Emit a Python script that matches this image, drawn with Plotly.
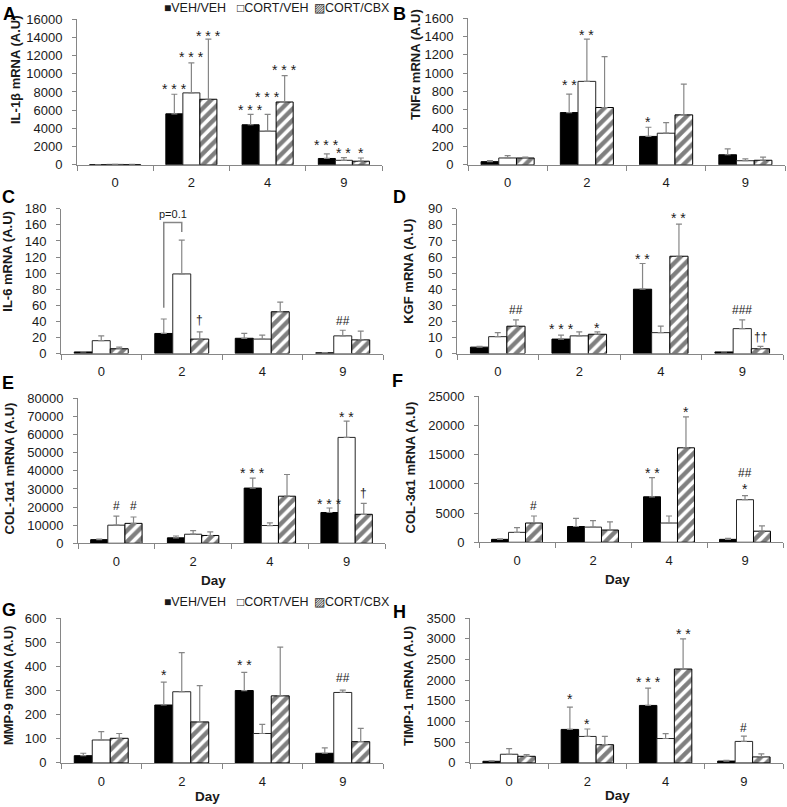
import plotly.graph_objects as go

W, H = 787, 807
FONT = "Arial, 'Liberation Sans', sans-serif"
GRAY = "#868686"
TXT = "#1a1a1a"

DAYS = ["0", "2", "4", "9"]
GROUPS = ["VEH/VEH", "CORT/VEH", "CORT/CBX"]

# ---- data (mean, SEM) per panel / group ----
IL1B_VEH = [30, 5600, 4400, 700]
IL1B_VEH_SEM = [10, 2150, 1150, 500]
IL1B_CORT = [50, 7900, 3700, 500]
IL1B_CORT_SEM = [10, 3300, 1850, 300]
IL1B_CBX = [40, 7200, 6900, 400]
IL1B_CBX_SEM = [10, 6600, 2900, 350]

TNF_VEH = [35, 570, 310, 110]
TNF_VEH_SEM = [10, 200, 100, 65]
TNF_CORT = [75, 910, 345, 45]
TNF_CORT_SEM = [25, 460, 115, 20]
TNF_CBX = [75, 625, 545, 50]
TNF_CBX_SEM = [10, 555, 335, 35]

IL6_VEH = [2, 25, 19, 1]
IL6_VEH_SEM = [0.5, 18, 6, 0.3]
IL6_CORT = [16, 99, 18, 22]
IL6_CORT_SEM = [6, 42, 5, 7]
IL6_CBX = [6, 18, 52, 17]
IL6_CBX_SEM = [2, 9, 12, 11]

KGF_VEH = [4, 9, 40, 1]
KGF_VEH_SEM = [0.5, 2.5, 16, 0.2]
KGF_CORT = [10.5, 11, 13, 15.5]
KGF_CORT_SEM = [2.5, 2.5, 4, 5.5]
KGF_CBX = [17, 12, 60.5, 3]
KGF_CBX_SEM = [4, 1.5, 20, 1.5]

COL1_VEH = [2000, 3000, 30500, 17000]
COL1_VEH_SEM = [300, 1000, 5500, 2500]
COL1_CORT = [10000, 5000, 9800, 58500]
COL1_CORT_SEM = [5000, 2000, 1500, 9000]
COL1_CBX = [11000, 4300, 26000, 16000]
COL1_CBX_SEM = [3500, 2000, 12000, 6000]

COL3_VEH = [500, 2700, 7800, 500]
COL3_VEH_SEM = [100, 1400, 3300, 150]
COL3_CORT = [1700, 2600, 3300, 7300]
COL3_CORT_SEM = [800, 1100, 1200, 700]
COL3_CBX = [3300, 2100, 16200, 1900]
COL3_CBX_SEM = [1200, 1400, 5300, 900]

MMP9_VEH = [30, 240, 300, 40]
MMP9_VEH_SEM = [10, 95, 75, 22]
MMP9_CORT = [95, 295, 122, 292]
MMP9_CORT_SEM = [35, 162, 38, 10]
MMP9_CBX = [102, 170, 278, 88]
MMP9_CBX_SEM = [20, 150, 202, 55]

TIMP1_VEH = [40, 810, 1390, 45]
TIMP1_VEH_SEM = [10, 540, 420, 15]
TIMP1_CORT = [210, 640, 590, 520]
TIMP1_CORT_SEM = [135, 180, 120, 130]
TIMP1_CBX = [160, 440, 2270, 145]
TIMP1_CBX_SEM = [40, 200, 730, 75]

# significance marks: (day index, group index, text, y-position in data units)
IL1B_MARKS = [(1, 0, "***", 8700), (1, 1, "***", 12150), (1, 2, "***", 14450),
              (2, 0, "***", 6300), (2, 1, "***", 7800), (2, 2, "***", 10700),
              (3, 0, "***", 2500), (3, 1, "**", 1600), (3, 2, "*", 1600)]
TNF_MARKS = [(1, 0, "**", 905), (1, 1, "**", 1450), (2, 0, "*", 498)]
IL6_MARKS = [(1, 2, "†", 42), (3, 1, "##", 40)]
KGF_MARKS = [(0, 2, "##", 27), (1, 0, "***", 17), (1, 2, "*", 18), (2, 0, "**", 60.6),
             (2, 2, "**", 86), (2, 2, "††", 93), (3, 1, "###", 27), (3, 2, "††", 10)]
COL1_MARKS = [(0, 1, "#", 20400), (0, 2, "#", 20400), (2, 0, "***", 40700),
              (3, 0, "***", 23600), (3, 1, "**", 71500), (3, 2, "†", 28000)]
COL3_MARKS = [(0, 2, "#", 6300), (2, 0, "**", 12400), (2, 2, "*", 22900),
              (3, 1, "*", 9700), (3, 1, "##", 11800)]
MMP9_MARKS = [(1, 0, "*", 375), (2, 0, "**", 420), (3, 1, "##", 352)]
TIMP1_MARKS = [(1, 0, "*", 1610), (1, 1, "*", 1005), (2, 0, "***", 2035),
               (2, 2, "**", 3180), (3, 1, "#", 845)]

# IL-6 day-2 comparison bracket (VEH/VEH vs CORT/VEH)
IL6_BRACKET_DAY = 1
IL6_BRACKET_Y = [57, 163, 151]
IL6_BRACKET_LABEL = "p=0.1"
IL6_BRACKET_LABEL_Y = 174

panels = [
    dict(letter="A", ytitle="IL-1β mRNA (A.U)", ymax=16000, dtick=2000,
         means=[IL1B_VEH, IL1B_CORT, IL1B_CBX], sems=[IL1B_VEH_SEM, IL1B_CORT_SEM, IL1B_CBX_SEM],
         marks=IL1B_MARKS, box=(77, 382, 18, 164), tpos=(15, 69), lpos=(9, 13), day=None),
    dict(letter="B", ytitle="TNFα mRNA (A.U)", ymax=1600, dtick=200,
         means=[TNF_VEH, TNF_CORT, TNF_CBX], sems=[TNF_VEH_SEM, TNF_CORT_SEM, TNF_CBX_SEM],
         marks=TNF_MARKS, box=(468, 785, 17, 164), tpos=(415, 64), lpos=(399, 13), day=None),
    dict(letter="C", ytitle="IL-6 mRNA (A.U)", ymax=180, dtick=20,
         means=[IL6_VEH, IL6_CORT, IL6_CBX], sems=[IL6_VEH_SEM, IL6_CORT_SEM, IL6_CBX_SEM],
         marks=IL6_MARKS, box=(61, 383, 208, 353), tpos=(8, 261), lpos=(8, 196), day=None),
    dict(letter="D", ytitle="KGF mRNA (A.U)", ymax=90, dtick=10,
         means=[KGF_VEH, KGF_CORT, KGF_CBX], sems=[KGF_VEH_SEM, KGF_CORT_SEM, KGF_CBX_SEM],
         marks=KGF_MARKS, box=(457, 783, 208, 353), tpos=(409, 271), lpos=(399, 196), day=None),
    dict(letter="E", ytitle="COL-1α1 mRNA (A.U)", ymax=80000, dtick=10000,
         means=[COL1_VEH, COL1_CORT, COL1_CBX], sems=[COL1_VEH_SEM, COL1_CORT_SEM, COL1_CBX_SEM],
         marks=COL1_MARKS, box=(78, 385, 398, 543), tpos=(9, 468), lpos=(8, 382), day=(213, 580)),
    dict(letter="F", ytitle="COL-3α1 mRNA (A.U)", ymax=25000, dtick=5000,
         means=[COL3_VEH, COL3_CORT, COL3_CBX], sems=[COL3_VEH_SEM, COL3_CORT_SEM, COL3_CBX_SEM],
         marks=COL3_MARKS, box=(479, 783, 396, 542), tpos=(410, 467), lpos=(398, 380), day=(617, 579)),
    dict(letter="G", ytitle="MMP-9 mRNA (A.U)", ymax=600, dtick=100,
         means=[MMP9_VEH, MMP9_CORT, MMP9_CBX], sems=[MMP9_VEH_SEM, MMP9_CORT_SEM, MMP9_CBX_SEM],
         marks=MMP9_MARKS, box=(61, 383, 618, 763), tpos=(8, 686), lpos=(9, 610), day=(207, 797)),
    dict(letter="H", ytitle="TIMP-1 mRNA (A.U)", ymax=3500, dtick=500,
         means=[TIMP1_VEH, TIMP1_CORT, TIMP1_CBX], sems=[TIMP1_VEH_SEM, TIMP1_CORT_SEM, TIMP1_CBX_SEM],
         marks=TIMP1_MARKS, box=(470, 783, 618, 763), tpos=(408, 686), lpos=(399, 612), day=(617, 796)),
]

BARGAP = 0.33
BW = (1 - BARGAP) / 3

# the photographed page is slightly squeezed vertically; map target pixel rows to page rows
V_SCALE = 821 / 807
V_OFFSET = 6


def px(x):
    return x / W


def py(y):
    return 1 - (y * V_SCALE - V_OFFSET) / H


styles = [
    dict(color="black", line=dict(color="black", width=1)),
    dict(color="white", line=dict(color="#262626", width=1)),
    dict(color="white", line=dict(color="black", width=1),
         pattern=dict(shape="/", fgcolor="black", bgcolor="white", size=8, solidity=0.55)),
]

fig = go.Figure()
annotations = []
shapes = []
layout_axes = {}
xpos = list(range(len(DAYS)))

for i, p in enumerate(panels, start=1):
    xs = "x" if i == 1 else f"x{i}"
    ys = "y" if i == 1 else f"y{i}"
    for g, name in enumerate(GROUPS):
        fig.add_trace(go.Bar(
            x=xpos, y=p["means"][g], name=name, xaxis=xs, yaxis=ys, showlegend=False,
            marker=styles[g],
            error_y=dict(type="data", array=p["sems"][g], arrayminus=[0] * len(DAYS), symmetric=False,
                         color=GRAY, thickness=1.2, width=3),
        ))
    x0, x1, y0, y1 = p["box"]
    layout_axes["xaxis" if i == 1 else f"xaxis{i}"] = dict(
        domain=[px(x0), px(x1)], anchor=ys, range=[-0.5, len(DAYS) - 0.5],
        tickmode="array", tickvals=xpos, ticktext=DAYS, ticks="outside", ticklen=6,
        tickcolor="rgba(0,0,0,0)", showline=True, linecolor=GRAY, linewidth=1,
        showgrid=False, zeroline=False, tickfont=dict(family=FONT, size=13, color=TXT),
        minor=dict(tickmode="array", tickvals=[k - 0.5 for k in range(len(DAYS) + 1)],
                   ticks="outside", ticklen=5, tickcolor=GRAY, tickwidth=1),
        fixedrange=True,
    )
    layout_axes["yaxis" if i == 1 else f"yaxis{i}"] = dict(
        domain=[py(y1), py(y0)], anchor=xs, range=[0, p["ymax"]], dtick=p["dtick"], tick0=0,
        tickformat="d", ticks="outside", ticklen=4, tickcolor=GRAY, tickwidth=1,
        ticklabelstandoff=7,
        showline=True, linecolor=GRAY, linewidth=1, showgrid=False, zeroline=False,
        tickfont=dict(family=FONT, size=13, color=TXT), fixedrange=True,
    )
    annotations.append(dict(text=f"<b>{p['ytitle']}</b>", x=px(p["tpos"][0]), y=py(p["tpos"][1]),
                            xref="paper", yref="paper", textangle=-90, showarrow=False,
                            xanchor="center", yanchor="middle",
                            font=dict(family=FONT, size=13, color=TXT)))
    annotations.append(dict(text=f"<b>{p['letter']}</b>", x=px(p["lpos"][0]), y=py(p["lpos"][1]),
                            xref="paper", yref="paper", showarrow=False,
                            xanchor="center", yanchor="middle",
                            font=dict(family=FONT, size=18, color="black")))
    if p["day"]:
        annotations.append(dict(text="<b>Day</b>", x=px(p["day"][0]), y=py(p["day"][1]),
                                xref="paper", yref="paper", showarrow=False,
                                xanchor="center", yanchor="middle",
                                font=dict(family=FONT, size=13.5, color=TXT)))
    for d, g, t, yv in p["marks"]:
        star = t.startswith("*")
        txt = " ".join(t) if star else t
        annotations.append(dict(text=txt, x=d + (g - 1) * BW, y=yv, xref=xs, yref=ys,
                                showarrow=False, xanchor="center", yanchor="middle",
                                yshift=-3 if star else 0,
                                font=dict(family=FONT, size=14 if star else 12, color=TXT)))

# IL-6 bracket (panel C = axes 3)
bx0 = IL6_BRACKET_DAY - BW
bx1 = IL6_BRACKET_DAY
shapes.append(dict(type="path", xref="x3", yref="y3",
                   path=f"M {bx0},{IL6_BRACKET_Y[0]} L {bx0},{IL6_BRACKET_Y[1]} L {bx1},{IL6_BRACKET_Y[1]} L {bx1},{IL6_BRACKET_Y[2]}",
                   line=dict(color=GRAY, width=1.5)))
annotations.append(dict(text=IL6_BRACKET_LABEL, x=(bx0 + bx1) / 2, y=IL6_BRACKET_LABEL_Y,
                        xref="x3", yref="y3", showarrow=False, xanchor="center", yanchor="middle",
                        font=dict(family=FONT, size=11, color=TXT)))

# legends (panels A and G)
LEG_SYMBOLS = ["■", "□", "▨"]
for ly in (7, 602):
    for sym, name, lx in zip(LEG_SYMBOLS, GROUPS, (163, 236, 313)):
        annotations.append(dict(text=f"<span style='font-size:12px'>{sym}</span>{name}",
                                x=px(lx), y=py(ly), xref="paper", yref="paper",
                                showarrow=False, xanchor="left", yanchor="middle", borderpad=0,
                                font=dict(family=FONT, size=12.5, color=TXT)))

fig.update_layout(
    width=W, height=H, margin=dict(l=0, r=0, t=0, b=0),
    paper_bgcolor="white", plot_bgcolor="white",
    barmode="group", bargap=BARGAP, bargroupgap=0,
    annotations=annotations, shapes=shapes, showlegend=False,
    font=dict(family=FONT, color=TXT),
    **layout_axes,
)

POST = (
    "document.documentElement.style.margin='0';document.documentElement.style.padding='0';"
    "document.documentElement.style.overflow='hidden';"
    "document.body.style.margin='0';document.body.style.padding='0';document.body.style.overflow='hidden';"
    "var d=document.getElementById('{plot_id}');d.style.position='fixed';d.style.left='0px';d.style.top='0px';"
)
fig.write_html("out.html", config={"displayModeBar": False}, post_script=POST)
